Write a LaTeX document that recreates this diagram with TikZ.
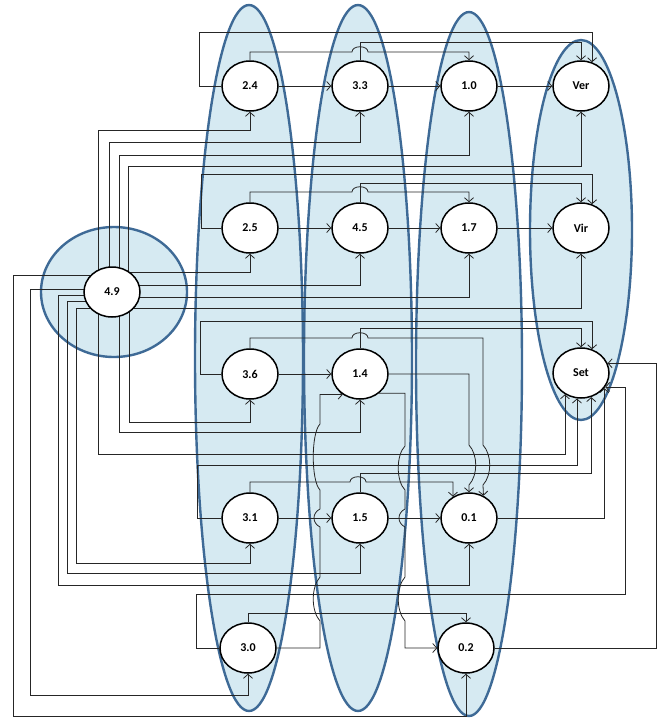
\documentclass[tikz,border=0pt]{standalone}
\usepackage{fontspec}
\setmainfont{Carlito}
\usetikzlibrary{arrows.meta,shapes.geometric}
\pgfdeclarelayer{back}
\pgfdeclarelayer{wires}
\pgfsetlayers{back,wires,main}
\definecolor{groupfill}{RGB}{214,234,242}
\definecolor{groupline}{RGB}{62,106,150}
\tikzset{
  val/.style={ellipse, draw, line width=1.5pt, fill=white, minimum width=56pt,
    minimum height=50pt, inner sep=0pt, font=\bfseries\fontsize{12}{14}\selectfont},
  group/.style={draw=groupline, fill=groupfill, line width=2.4pt},
  link/.style={draw=black!85, line width=0.8pt, -{Straight Barb[length=4pt,width=9pt]}}
}

\begin{document}
\begin{tikzpicture}[x=1pt,y=-1pt]
  \useasboundingbox (0,0) rectangle (668,721);

  % values
  \node[val] (n24) at (250,86) {2.4};
  \node[val] (n33) at (360,86) {3.3};
  \node[val] (n10) at (469,86) {1.0};
  \node[val] (ver) at (581,86) {Ver};
  \node[val] (n25) at (250,228) {2.5};
  \node[val] (n45) at (360,228) {4.5};
  \node[val] (n17) at (469,228) {1.7};
  \node[val] (vir) at (581,228) {Vir};
  \node[val] (n49) at (112,292) {4.9};
  \node[val] (n36) at (250,374) {3.6};
  \node[val] (n14) at (360,374) {1.4};
  \node[val] (set) at (581,373) {Set};
  \node[val] (n31) at (250,518) {3.1};
  \node[val] (n15) at (360,518) {1.5};
  \node[val] (n01) at (469,518) {0.1};
  \node[val] (n30) at (248,648) {3.0};
  \node[val] (n02) at (466,648) {0.2};

  % groups
  \begin{pgfonlayer}{back}
    \draw[group] (114,292) ellipse [x radius=73, y radius=65];
    \draw[group] (249,358) ellipse [x radius=54, y radius=353];
    \draw[group] (358,358) ellipse [x radius=54, y radius=353];
    \draw[group] (469,364) ellipse [x radius=53, y radius=352];
    \draw[group] (581,230) ellipse [x radius=51, y radius=190];
  \end{pgfonlayer}

  \begin{pgfonlayer}{wires}
    % first row
    \draw[link] (n24) -- (n33);
    \draw[link] (n33) -- (n10);
    \draw[link] (n10) -- (ver);
    \draw[link] (n24.north) |- (352,52) .. controls (352,45) and (368,45) .. (368,52) -| (n10.north);
    \draw[link] (n33.north) -- (n33 |- 0,42) -| (ver.north);
    \draw[link] (n24.west) -| (199,32) -| (ver.65);
    \draw[link] (n49 -| 98,0) -- (98,130) -| (n24.south);
    \draw[link] (n49 -| 109,0) -- (109,142) -| (n33.south);
    \draw[link] (n49 -| 119,0) -- (119,155) -| (n10.south);
    \draw[link] (n49 -| 128,0) -- (128,166) -| (ver.south);

    % second row
    \draw[link] (n25) -- (n45);
    \draw[link] (n45) -- (n17);
    \draw[link] (n17) -- (vir);
    \draw[link] (n25.north) |- (352,192) .. controls (352,185) and (368,185) .. (368,192) -| (n17.north);
    \draw[link] (n45.north) -- (n45 |- 0,183) -| (vir.north);
    \draw[link] (n25.west) -| (201,174) -| (vir.65);
    \draw[link] (n49 |- 0,272) -| (n25.south);
    \draw[link] (n49 |- 0,285) -| (n45.south);
    \draw[link] (n49 |- 0,297) -| (n17.south);
    \draw[link] (n49 |- 0,308) -| (vir.south);

    % third row
    \draw[link] (n36) -- (n14);
    \draw[link] (n36.north) |- (352,338) .. controls (352,331) and (368,331) .. (368,338)
      -| (483,445) .. controls (492,455) and (492,475) .. (483,485) -- (n01.57);
    \draw[link] (n14.north) -- (n14 |- 0,328) -| (set.north);
    \draw[link] (n36.west) -| (200,321) -| (set.65);
    \draw[link] (n14.east) -| (469,445) .. controls (478,455) and (478,475) .. (469,485) -- (n01.north);
    \draw[link] (n14.-45) -| (405,446) .. controls (396,455) and (396,481) .. (405,490)
      -- (405,509) .. controls (397,513) and (397,523) .. (405,527)
      -- (405,577) .. controls (396,587) and (396,611) .. (405,621) |- (n02.west);
    \draw[link] (n49 -| 129,0) -- (129,422) -| (n36.south);
    \draw[link] (n49 -| 119,0) -- (119,432) -| (n14.south);
    \draw[link] (n49 -| 98,0) -- (98,454) -| (set.-127);

    % fourth row
    \draw[link] (n31) -- (n15);
    \draw[link] (n15) -- (n01);
    \draw[link] (n31.north) |- (350,482) .. controls (350,475) and (366,475) .. (366,482) -| (n01.127);
    \draw[link] (n15.north) -- (n15 |- 0,473) -| (set.-67);
    \draw[link] (n31.west) -| (197,465) -| (set.-99);
    \draw[link] (n01.east) -| (set.-33);
    \draw[link] (n49 |- 0,308) -| (76,563) -| (n31.south);
    \draw[link] (n49 |- 0,301) -| (67,573) -| (n15.south);
    \draw[link] (n49 |- 0,295) -| (58,585) -| (n01.south);

    % fifth row
    \draw[link] (n30.north) -- (n30 |- 0,613) -| (n02.north);
    \draw[link] (n30.east) -| (320,621) .. controls (311,611) and (311,587) .. (320,577)
      -- (320,527) .. controls (312,523) and (312,513) .. (320,509)
      -- (320,490) .. controls (311,481) and (311,433) .. (320,424) |- (n14.-130);
    \draw[link] (n30.west) -| (196,594) -- (625,594) |- (set.-30);
    \draw[link] (n02.east) -- (n02.east -| 656,0) |- (set.20);
    \draw[link] (n49 |- 0,289) -| (30,695) -| (n30.south);
    \draw[link] (n49 |- 0,275) -| (13,716) -| (n02.south);
  \end{pgfonlayer}
\end{tikzpicture}
\end{document}
